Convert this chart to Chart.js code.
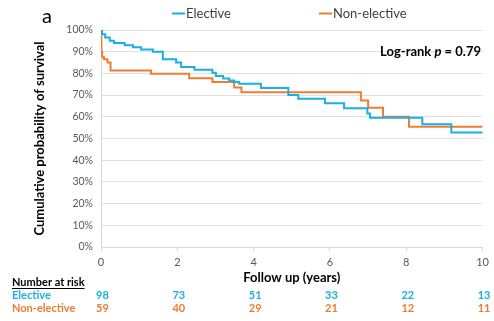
<!DOCTYPE html>
<html>
<head>
<meta charset="utf-8">
<script src="https://cdn.jsdelivr.net/npm/chart.js@4/dist/chart.umd.min.js"></script>
<style>
  html, body { margin: 0; padding: 0; background: #fff; }
  #wrap { width: 494px; height: 321px; position: relative; }
</style>
</head>
<body>
<div id="wrap"><canvas id="c" width="494" height="321"></canvas></div>
<script>
// ---- Data ----
const electiveTimes = [0, 0.03, 0.11, 0.23, 0.34, 0.62, 0.84, 1.05, 1.36, 1.62, 1.97, 2.10, 2.45, 2.92, 3.01, 3.20, 3.36, 3.49, 3.62, 4.19, 4.91, 5.17, 5.87, 6.37, 6.98, 7.05, 8.42, 9.18, 10];
const electiveSurv  = [100, 98, 96.5, 95, 94, 93, 92, 91, 90, 86.5, 85, 83, 81.7, 80.3, 78.8, 77.6, 76.7, 76, 75.2, 73.3, 70, 68.3, 66.2, 63.9, 61.5, 59.6, 56.6, 52.8, 52.8];
const nonElectiveTimes = [0, 0.01, 0.03, 0.08, 0.17, 0.25, 1.31, 2.31, 2.92, 3.49, 3.68, 6.81, 7.0, 7.39, 8.07, 10];
const nonElectiveSurv  = [100, 90, 87.5, 86.5, 85, 81.3, 79.8, 77.8, 76, 73.5, 71.3, 67.5, 64.2, 60, 55.4, 55.4];
const seriesNames = ['Elective', 'Non-elective'];
const atRiskTimes = [0, 2, 4, 6, 8, 10];
const electiveAtRisk = [98, 73, 51, 33, 22, 13];
const nonElectiveAtRisk = [59, 40, 29, 21, 12, 11];

const BLUE = '#1AAFE6';
const ORANGE = '#ED7D31';
const FONT = 'Lato, Carlito, "Open Sans", sans-serif';

const toPts = (ts, vs) => ts.map((t, i) => ({ x: t, y: vs[i] }));

const overlay = {
  id: 'overlay',
  afterDraw(chart) {
    const ctx = chart.ctx;
    const xs = chart.scales.x;
    ctx.save();
    // panel letter
    ctx.fillStyle = '#000';
    ctx.font = '20px ' + FONT;
    ctx.textBaseline = 'middle';
    ctx.textAlign = 'left';
    ctx.fillText('a', 42, 17);

    // legend
    ctx.font = '13px ' + FONT;
    ctx.fillStyle = '#404040';
    const legendItems = [
      { name: seriesNames[0], color: BLUE, x: 172 },
      { name: seriesNames[1], color: ORANGE, x: 319 }
    ];
    legendItems.forEach(it => {
      ctx.strokeStyle = it.color;
      ctx.lineWidth = 2;
      ctx.beginPath();
      ctx.moveTo(it.x, 13.5);
      ctx.lineTo(it.x + 13, 13.5);
      ctx.stroke();
      ctx.fillText(it.name, it.x + 14, 13.5);
    });

    // Log-rank annotation
    const y = 52;
    let right = 481;
    ctx.fillStyle = '#000';
    ctx.textAlign = 'left';
    const parts = [
      { t: 'Log-rank ', f: 'bold 13px ' + FONT },
      { t: 'p', f: 'italic bold 13px ' + FONT },
      { t: ' = 0.79', f: 'bold 13px ' + FONT }
    ];
    let total = 0;
    parts.forEach(p => { ctx.font = p.f; p.w = ctx.measureText(p.t).width; total += p.w; });
    let x = right - total;
    parts.forEach(p => { ctx.font = p.f; ctx.fillText(p.t, x, y); x += p.w; });

    // Number at risk table
    ctx.font = 'bold 11px ' + FONT;
    ctx.fillStyle = '#000';
    ctx.fillText('Number at risk', 12, 282);
    const w = ctx.measureText('Number at risk').width;
    ctx.strokeStyle = '#000';
    ctx.lineWidth = 1;
    ctx.beginPath();
    ctx.moveTo(12, 288.5);
    ctx.lineTo(12 + w, 288.5);
    ctx.stroke();

    const rows = [
      { name: seriesNames[0], vals: electiveAtRisk, color: BLUE, y: 295 },
      { name: seriesNames[1], vals: nonElectiveAtRisk, color: ORANGE, y: 308 }
    ];
    rows.forEach(r => {
      ctx.fillStyle = r.color;
      ctx.textAlign = 'left';
      ctx.fillText(r.name, 12, r.y);
      ctx.textAlign = 'center';
      atRiskTimes.forEach((t, i) => {
        ctx.fillText(String(r.vals[i]), xs.getPixelForValue(t) + 1.5, r.y);
      });
    });
    ctx.restore();
  }
};

new Chart(document.getElementById('c'), {
  type: 'line',
  data: {
    datasets: [
      {
        label: seriesNames[0],
        data: toPts(electiveTimes, electiveSurv),
        borderColor: BLUE,
        backgroundColor: BLUE,
        borderWidth: 2,
        stepped: 'before',
        pointRadius: 0,
        fill: false
      },
      {
        label: seriesNames[1],
        data: toPts(nonElectiveTimes, nonElectiveSurv),
        borderColor: ORANGE,
        backgroundColor: ORANGE,
        borderWidth: 2,
        stepped: 'before',
        pointRadius: 0,
        fill: false
      }
    ]
  },
  options: {
    responsive: false,
    animation: false,
    devicePixelRatio: 1,
    layout: { padding: { left: 28, right: 10, top: 30, bottom: 34 } },
    plugins: {
      legend: { display: false },
      tooltip: { enabled: false }
    },
    scales: {
      x: {
        type: 'linear',
        min: 0,
        max: 10,
        afterFit: s => { s.height = 40; },
        afterBuildTicks: s => { s.ticks = atRiskTimes.map(v => ({ value: v })); },
        grid: { drawOnChartArea: false, drawTicks: true, tickLength: 4, color: '#d9d9d9' },
        border: { color: '#d9d9d9', width: 1 },
        ticks: { color: '#595959', font: { family: FONT, size: 11 }, padding: 5, maxRotation: 0 },
        title: {
          display: true,
          text: 'Follow up (years)',
          color: '#000',
          font: { family: FONT, size: 13, weight: 'bold' },
          padding: { top: 0, bottom: 1 }
        }
      },
      y: {
        min: 0,
        max: 100,
        afterFit: s => { s.width = 73; },
        ticks: {
          stepSize: 10,
          color: '#595959',
          font: { family: FONT, size: 10.5 },
          padding: 8,
          callback: v => v + '%'
        },
        grid: { color: '#e0e0e0', drawTicks: false, lineWidth: 1 },
        border: { color: '#d9d9d9', width: 1 },
        title: {
          display: true,
          text: 'Cumulative probability of survival',
          color: '#000',
          font: { family: FONT, size: 13, weight: 'bold' },
          padding: { top: 4, bottom: 0 }
        }
      }
    }
  },
  plugins: [overlay]
});
</script>
</body>
</html>
